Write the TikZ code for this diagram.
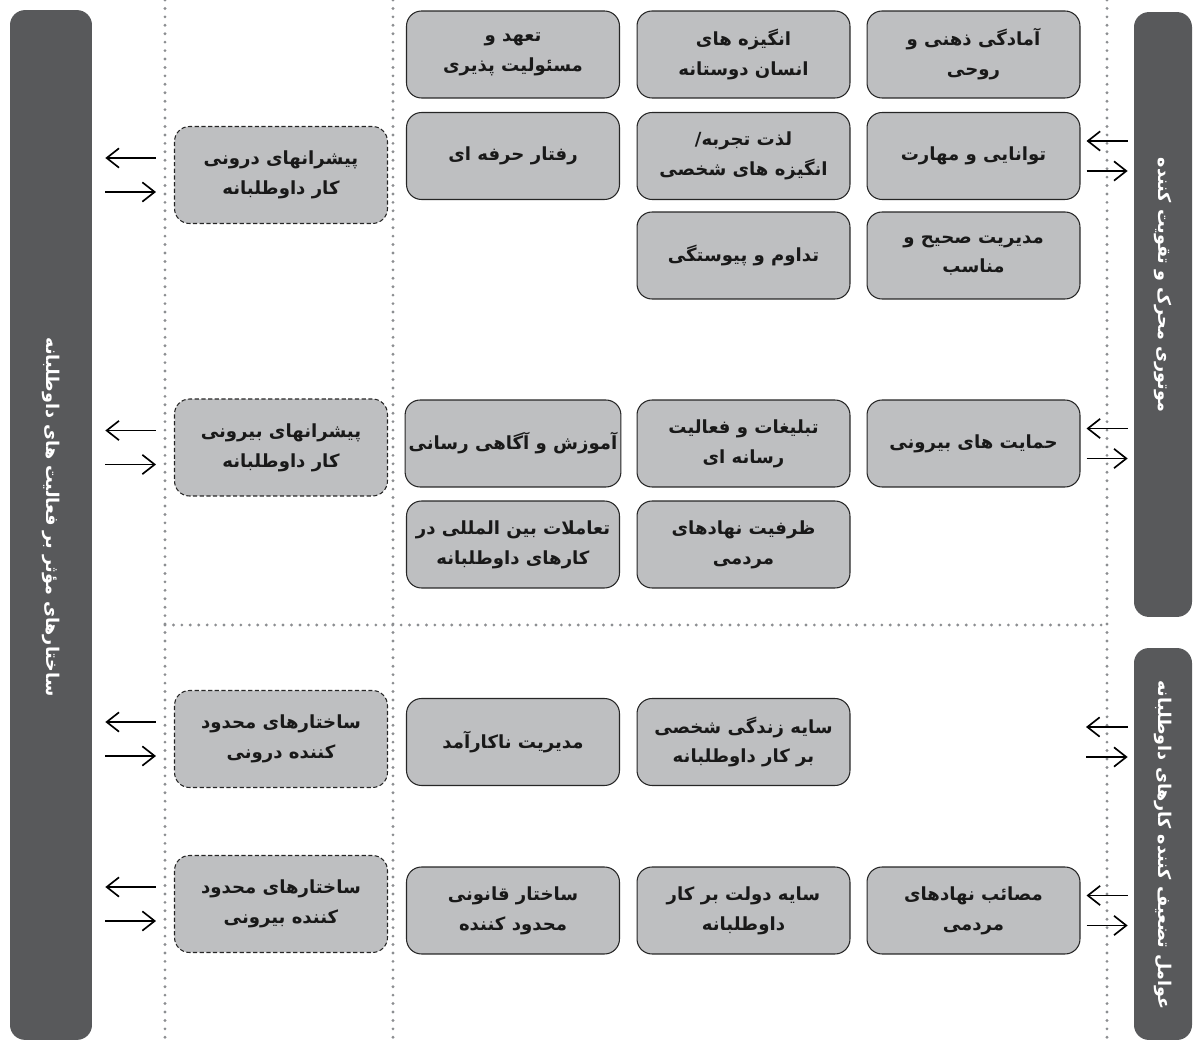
\documentclass[tikz,border=0pt]{standalone}
\usepackage{fontspec}
\newfontfamily\farsi[Script=Arabic]{DejaVu Sans}
\TeXXeTstate=1
\usetikzlibrary{arrows.meta}

\definecolor{boxgray}{RGB}{190,191,193}
\definecolor{bargray}{RGB}{88,89,91}
\definecolor{dotgray}{RGB}{140,142,145}
\newcommand{\rtl}[1]{\beginR #1\endR}

\tikzset{
  factor/.style={draw=black!85, fill=boxgray, rounded corners=0.3cm, line width=0.6pt,
    minimum width=4.26cm, minimum height=1.74cm, inner xsep=2pt, align=center, text=black!90,
    font=\farsi\bfseries\fontsize{10.3}{17}\selectfont},
  drivebox/.style={factor, dash pattern=on 2.4pt off 1.4pt, minimum height=1.94cm},
  sidebar/.style={fill=bargray, rounded corners=0.3cm, inner sep=0pt},
  bartext/.style={rotate=-90, text=white, font=\farsi\bfseries\fontsize{10}{12}\selectfont},
  divider/.style={dotgray, line width=1.8pt, line cap=round, dash pattern=on 0pt off 4.8pt},
  arr/.style={-{Straight Barb[length=7pt,width=11pt]}, line width=0.95pt}
}

\begin{document}
\begin{tikzpicture}[x=0.02cm, y=-0.02cm]
  \useasboundingbox (0,0) rectangle (1194,1043);

  \draw[divider] (165,0) -- (165,1043);
  \draw[divider] (393,0) -- (393,1043);
  \draw[divider] (1107,0) -- (1107,1043);
  \draw[divider] (165,625) -- (1107,625);

  \node[sidebar, minimum width=1.64cm, minimum height=20.6cm] (lbar) at (51,525) {};
  \node[sidebar, minimum width=1.16cm, minimum height=12.1cm] (rbarA) at (1163,314.5) {};
  \node[sidebar, minimum width=1.16cm, minimum height=7.84cm] (rbarB) at (1163,844) {};
  \node[bartext] (ltitle) at (51,517) {\rtl{ساختارهای مؤثر بر فعالیت های داوطلبانه}};
  \node[bartext] (rtitleA) at (1163,285) {\rtl{موتوری محرک و تقویت کننده}};
  \node[bartext] (rtitleB) at (1163,845) {\rtl{عوامل تضعیف کننده کارهای داوطلبانه}};

  \node[drivebox] (d1) at (281,175) {\rtl{پیشرانهای درونی}\\\rtl{کار داوطلبانه}};
  \node[drivebox] (d2) at (281,447.5) {\rtl{پیشرانهای بیرونی}\\\rtl{کار داوطلبانه}};
  \node[drivebox] (d3) at (281,739) {\rtl{ساختارهای محدود}\\\rtl{کننده درونی}};
  \node[drivebox] (d4) at (281,904) {\rtl{ساختارهای محدود}\\\rtl{کننده بیرونی}};

  \node[factor] (a1) at (513,54.5) {\rtl{تعهد و}\\\rtl{مسئولیت پذیری}};
  \node[factor] (b1) at (743.5,54.5) {\rtl{انگیزه های}\\\rtl{انسان دوستانه}};
  \node[factor] (c1) at (973.5,54.5) {\rtl{آمادگی ذهنی و}\\\rtl{روحی}};
  \node[factor] (a2) at (513,156) {\rtl{رفتار حرفه ای}};
  \node[factor] (b2) at (743.5,156) {\rtl{لذت تجربه/}\\\rtl{انگیزه های شخصی}};
  \node[factor] (c2) at (973.5,156) {\rtl{توانایی و مهارت}};
  \node[factor] (b3) at (743.5,255.5) {\rtl{تداوم و پیوستگی}};
  \node[factor] (c3) at (973.5,255.5) {\rtl{مدیریت صحیح و}\\\rtl{مناسب}};

  \node[factor] (a4) at (513,443.5) {\rtl{آموزش و آگاهی رسانی}};
  \node[factor] (b4) at (743.5,443.5) {\rtl{تبلیغات و فعالیت}\\\rtl{رسانه ای}};
  \node[factor] (c4) at (973.5,443.5) {\rtl{حمایت های بیرونی}};
  \node[factor] (a5) at (513,544.5) {\rtl{تعاملات بین المللی در}\\\rtl{کارهای داوطلبانه}};
  \node[factor] (b5) at (743.5,544.5) {\rtl{ظرفیت نهادهای}\\\rtl{مردمی}};

  \node[factor] (a6) at (513,742) {\rtl{مدیریت ناکارآمد}};
  \node[factor] (b6) at (743.5,742) {\rtl{سایه زندگی شخصی}\\\rtl{بر کار داوطلبانه}};
  \coordinate (w6) at (1080,742);
  \node[factor] (a7) at (513,910.5) {\rtl{ساختار قانونی}\\\rtl{محدود کننده}};
  \node[factor] (b7) at (743.5,910.5) {\rtl{سایه دولت بر کار}\\\rtl{داوطلبانه}};
  \node[factor] (c7) at (973.5,910.5) {\rtl{مصائب نهادهای}\\\rtl{مردمی}};

  \foreach \d in {d1,d2,d3,d4} {
    \draw[arr, shorten <=0.36cm, shorten >=0.26cm] ([yshift=0.34cm]\d.west) -- ([yshift=0.34cm]\d.west -| lbar.east);
    \draw[arr, shorten <=0.26cm, shorten >=0.36cm] ([yshift=-0.34cm]\d.west -| lbar.east) -- ([yshift=-0.34cm]\d.west);
  }
  \foreach \t/\b in {c2.east/rbarA, c4.east/rbarA, w6/rbarB, c7.east/rbarB} {
    \draw[arr, shorten <=0.12cm, shorten >=0.12cm] ([yshift=0.3cm]\t -| \b.west) -- ([yshift=0.3cm]\t);
    \draw[arr, shorten <=0.12cm, shorten >=0.12cm] ([yshift=-0.3cm]\t) -- ([yshift=-0.3cm]\t -| \b.west);
  }
\end{tikzpicture}
\end{document}
